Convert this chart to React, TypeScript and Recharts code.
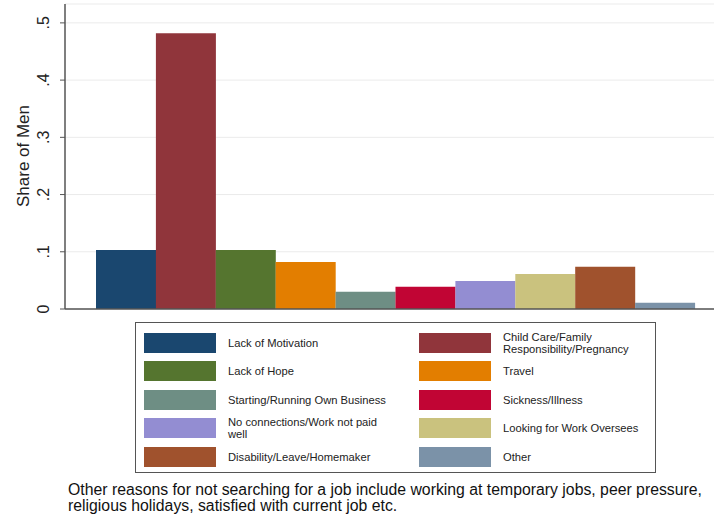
import React from 'react';
import { BarChart, Bar, XAxis, YAxis, CartesianGrid, Cell } from 'recharts';

const reasons = [
  'Lack of Motivation',
  'Child Care/Family Responsibility/Pregnancy',
  'Lack of Hope',
  'Travel',
  'Starting/Running Own Business',
  'Sickness/Illness',
  'No connections/Work not paid well',
  'Looking for Work Oversees',
  'Disability/Leave/Homemaker',
  'Other',
];
const shares = [0.103, 0.482, 0.103, 0.082, 0.03, 0.039, 0.049, 0.061, 0.074, 0.011];
const yTicks = [0, 0.1, 0.2, 0.3, 0.4, 0.5];
const yTickLabels = ['0', '.1', '.2', '.3', '.4', '.5'];

const palette = ['#1a476f', '#90353b', '#55752f', '#e37e00', '#6e8e84', '#c10534', '#938dd2', '#cac27e', '#a0522d', '#7b92a8'];

const data = reasons.map((name, i) => ({ name, share: shares[i] }));
const FONT = '"Liberation Sans", Arial, sans-serif';

const YTick = (props: any) => {
  const { x, y, payload } = props;
  const idx = yTicks.indexOf(payload.value);
  const tx = x - 9;
  return (
    <text
      x={tx}
      y={y}
      transform={`rotate(-90, ${tx}, ${y})`}
      textAnchor="middle"
      fontSize={16}
      fill="#222"
      fontFamily={FONT}
    >
      {idx >= 0 ? yTickLabels[idx] : payload.value}
    </text>
  );
};

export default function App() {
  return (
    <div style={{ position: 'absolute', left: 0, top: 0, width: 714, height: 517, background: '#fff', fontFamily: FONT }}>
      <BarChart
        width={714}
        height={517}
        data={data}
        margin={{ top: 4, right: 0, left: 0, bottom: 207 }}
        barCategoryGap={0}
      >
        <CartesianGrid horizontal vertical={false} stroke="#ebebeb" />
        <XAxis
          dataKey="name"
          tick={false}
          tickLine={false}
          height={1}
          axisLine={{ stroke: '#555', strokeWidth: 1.5 }}
          padding={{ left: 31, right: 19 }}
        />
        <YAxis
          width={65}
          domain={[0, 0.533]}
          ticks={yTicks}
          tick={<YTick />}
          tickSize={5}
          tickLine={{ stroke: '#555' }}
          axisLine={{ stroke: '#555', strokeWidth: 1.5 }}
        />
        <Bar dataKey="share" isAnimationActive={false}>
          {data.map((d, i) => (
            <Cell key={d.name} fill={palette[i]} />
          ))}
        </Bar>
      </BarChart>

      <svg style={{ position: 'absolute', left: 0, top: 0 }} width={40} height={320}>
        <text
          x={23}
          y={156}
          transform="rotate(-90, 23, 156)"
          textAnchor="middle"
          dominantBaseline="central"
          fontSize={17}
          fill="#222"
          fontFamily={FONT}
        >
          Share of Men
        </text>
      </svg>

      <div
        style={{
          position: 'absolute',
          left: 135,
          top: 322,
          width: 519,
          height: 149,
          border: '1px solid #555',
        }}
      >
        {reasons.map((name, i) => {
          const row = Math.floor(i / 2);
          const col = i % 2;
          const top = 10 + row * 28.4;
          return (
            <React.Fragment key={name}>
              <div
                style={{
                  position: 'absolute',
                  left: col === 0 ? 8 : 283,
                  top,
                  width: 72,
                  height: 20,
                  background: palette[i],
                }}
              />
              <div
                style={{
                  position: 'absolute',
                  left: col === 0 ? 92 : 367,
                  top: top + 10,
                  transform: 'translateY(-50%)',
                  width: 166,
                  fontSize: 11.2,
                  lineHeight: '12px',
                  color: '#222',
                }}
              >
                {name}
              </div>
            </React.Fragment>
          );
        })}
      </div>

      <div
        style={{
          position: 'absolute',
          left: 68,
          top: 482,
          width: 644,
          fontSize: 15.8,
          lineHeight: '16px',
          color: '#111',
        }}
      >
        Other reasons for not searching for a job include working at temporary jobs, peer pressure, religious holidays, satisfied with current job etc.
      </div>
    </div>
  );
}
